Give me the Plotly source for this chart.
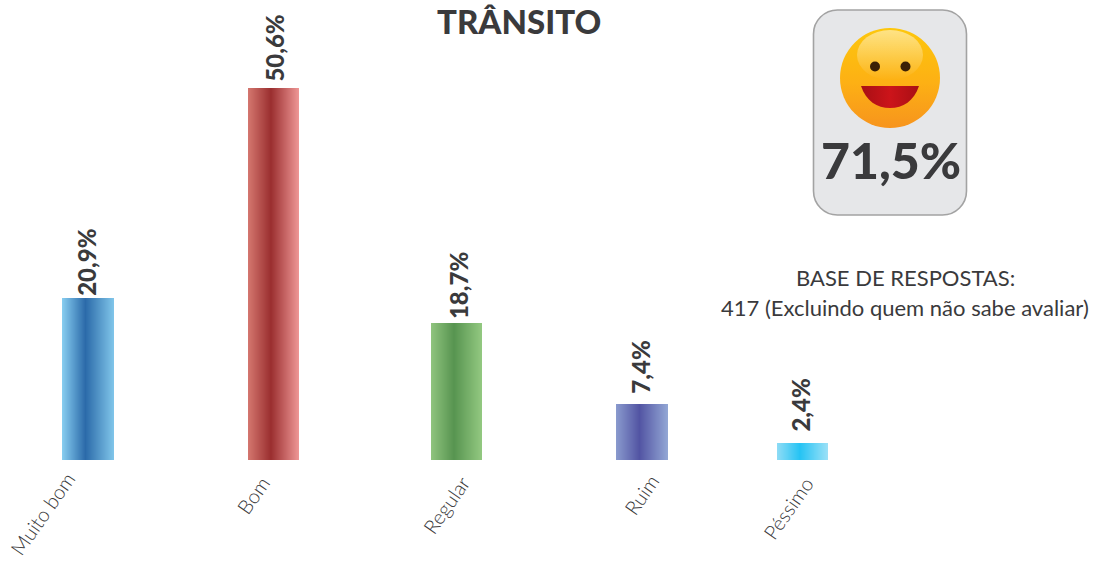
import base64
import numpy as np
import plotly.graph_objects as go

W, H = 1101, 562

categories = ["Muito bom", "Bom", "Regular", "Ruim", "Péssimo"]
value_labels = ["20,9%", "50,6%", "18,7%", "7,4%", "2,4%"]
bar_values = [22.0, 50.6, 18.7, 7.6, 2.3]
bar_left = [62, 248, 431, 616, 777]
bar_width = [52, 51, 51, 52, 51]
gradient_left = ["#88cef1", "#d4776f", "#90c47e", "#8a9bce", "#8fdcf5"]
gradient_mid = ["#2b6aa9", "#9a2e2f", "#579450", "#5254a3", "#25c3f4"]
gradient_right = ["#80c6ea", "#ef9796", "#93c981", "#93a7d5", "#9ce1f7"]
label_x = [87, 275, 458, 641, 801]
label_gap = [0, 4, 1, 8, 9]
cat_center_x = [42, 253, 446, 641, 788]
cat_center_y = [514, 495, 505, 495, 508]

PX_PER_UNIT = 7.35
BASE_PX = 460
y_range = [(BASE_PX - H) / PX_PER_UNIT, BASE_PX / PX_PER_UNIT]
DARK = "#3a3a3c"
FONT = "Lato"


def rgb(h):
    return np.array([int(h[i:i + 2], 16) for i in (1, 3, 5)], float)


def blend(a, b, t):
    c = rgb(a) * (1 - t) + rgb(b) * t
    return "rgb(%d,%d,%d)" % tuple(c.round())


fig = go.Figure()
for i, cat in enumerate(categories):
    n = bar_width[i]
    xs = bar_left[i] + np.arange(n) + 0.5
    pos = (np.arange(n) + 0.5) / n
    colors = [
        blend(gradient_left[i], gradient_mid[i], p / 0.45) if p < 0.45
        else blend(gradient_mid[i], gradient_right[i], (p - 0.45) / 0.55)
        for p in pos
    ]
    fig.add_trace(go.Bar(
        x=xs, y=[bar_values[i]] * n, width=1, name=cat,
        marker=dict(color=colors, line=dict(width=0)),
        showlegend=False, hoverinfo="skip",
    ))
    fig.add_annotation(
        x=label_x[i], y=bar_values[i], xref="x", yref="y",
        text=value_labels[i], textangle=-90, showarrow=False,
        yanchor="bottom", xanchor="center", yshift=label_gap[i],
        font=dict(family=FONT, size=24, color=DARK, weight=900),
    )
    fig.add_annotation(
        x=cat_center_x[i], y=1 - cat_center_y[i] / H, xref="x", yref="paper",
        text=cat, textangle=-55, showarrow=False,
        xanchor="center", yanchor="middle",
        font=dict(family=FONT, size=20, color=DARK, weight=300),
    )

svg = """<svg xmlns='http://www.w3.org/2000/svg' width='158' height='209' viewBox='811 8 158 209'>
<defs>
<linearGradient id='f' x1='0' y1='0' x2='0' y2='1'>
<stop offset='0' stop-color='#fdc70c'/><stop offset='.55' stop-color='#fdb014'/><stop offset='1' stop-color='#f7941d'/>
</linearGradient>
<linearGradient id='h' x1='0' y1='0' x2='0' y2='1'>
<stop offset='0' stop-color='#fff' stop-opacity='.5'/><stop offset='1' stop-color='#fff' stop-opacity='0'/>
</linearGradient>
<linearGradient id='m' x1='0' y1='0' x2='1' y2='0'>
<stop offset='0' stop-color='#a80f14'/><stop offset='.5' stop-color='#cc141a'/><stop offset='1' stop-color='#a80f14'/>
</linearGradient>
</defs>
<rect x='813.5' y='10' width='153' height='205' rx='24' fill='#e6e7e9' stroke='#a3a3a3' stroke-width='1.6'/>
<circle cx='890' cy='78' r='50' fill='url(#f)'/>
<ellipse cx='890' cy='55' rx='33' ry='25' fill='url(#h)'/>
<circle cx='875' cy='66.5' r='5' fill='#3b2006'/><circle cx='905.5' cy='66.5' r='5' fill='#3b2006'/>
<path d='M861 86 H919 C914 101 903 108 890 108 C877 108 866 101 861 86 Z' fill='url(#m)'/>
</svg>"""
src = "data:image/svg+xml;base64," + base64.b64encode(svg.encode()).decode()
fig.add_layout_image(
    source=src, xref="paper", yref="paper", x=811 / W, y=1 - 8 / H,
    sizex=158 / W, sizey=209 / H, xanchor="left", yanchor="top",
    sizing="stretch", layer="below",
)


def text_at(x, y, text, size, weight=None):
    fig.add_annotation(
        x=x / W, y=1 - y / H, xref="paper", yref="paper", text=text,
        xanchor="center", yanchor="middle",
        showarrow=False, font=dict(family=FONT, size=size, color=DARK, weight=weight),
    )


text_at(519, 21, "TRÂNSITO", 33, 900)
text_at(891, 160, "71,5%", 50, 900)
text_at(905, 277, "BASE DE RESPOSTAS:", 22)
text_at(905, 307, "417 (Excluindo quem não sabe avaliar)", 22)

fig.update_layout(
    width=W, height=H, margin=dict(l=0, r=0, t=0, b=0),
    paper_bgcolor="white", plot_bgcolor="rgba(0,0,0,0)",
    barmode="overlay", bargap=0,
    xaxis=dict(range=[0, W], visible=False, fixedrange=True),
    yaxis=dict(range=y_range, visible=False, fixedrange=True),
)
fig.write_html("out.html", config=dict(displayModeBar=False),
               post_script="document.body.style.margin='0';")
